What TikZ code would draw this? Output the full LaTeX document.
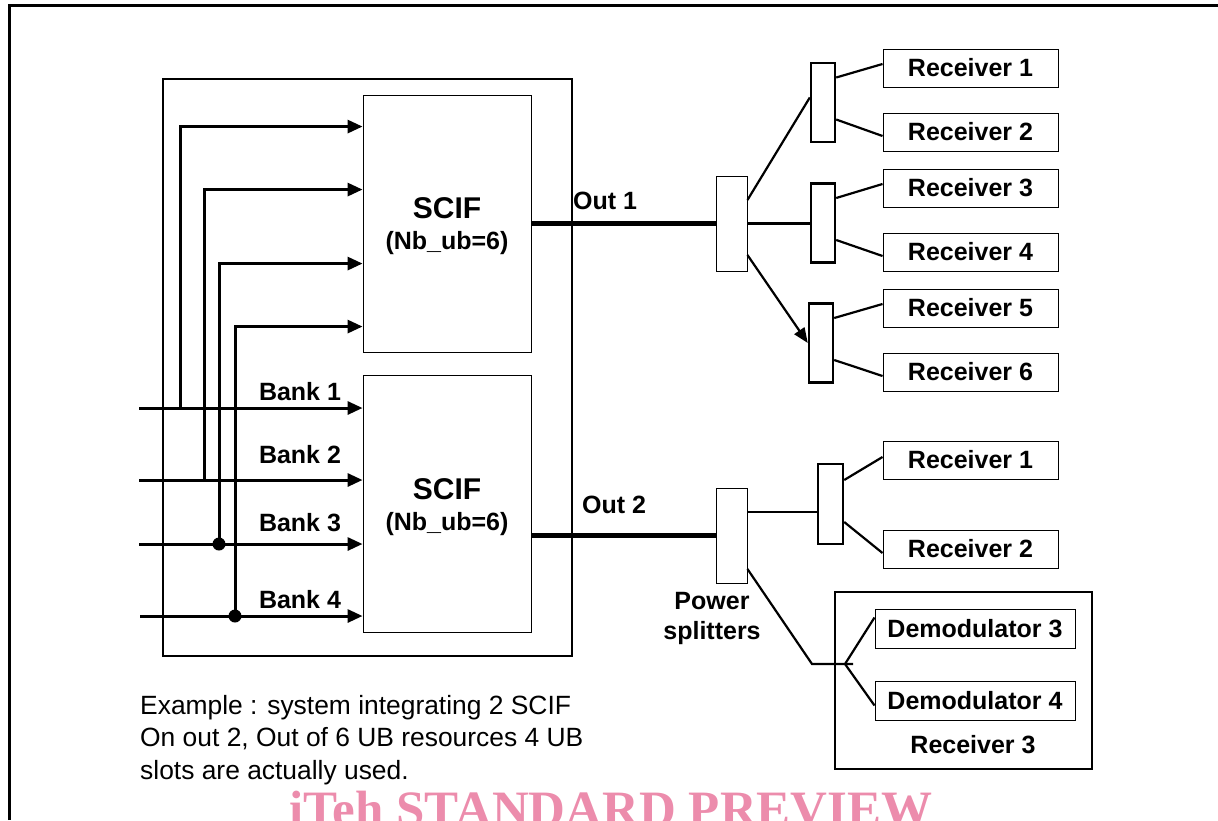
\documentclass[tikz,border=0pt]{standalone}
\usepackage{fontspec}
\setmainfont{Liberation Sans}
\newfontfamily\wmfont{Liberation Serif}
\usetikzlibrary{arrows.meta,positioning}
\definecolor{wmpink}{RGB}{236,140,172}

\begin{document}
\begin{tikzpicture}[
    x=1pt, y=-1pt,
    lbl/.style={font=\fontsize{25}{30}\selectfont\bfseries, inner sep=0pt},
    scif/.style={rectangle, draw, line width=0.9pt, minimum width=168pt, minimum height=257pt, inner sep=0pt},
    rx/.style={rectangle, draw, line width=1pt, minimum width=175pt, minimum height=38pt, lbl},
    demod/.style={rx, minimum width=200pt, minimum height=39pt},
    splitter/.style={rectangle, draw, line width=0.9pt, minimum width=31pt, minimum height=95pt, inner sep=0pt},
    subsplit/.style={rectangle, draw, line width=2.4pt, minimum width=24pt, minimum height=79pt, inner sep=0pt},
    feed/.style={line width=3pt, -{Triangle[length=15pt,width=13pt]}},
    trunk/.style={line width=5pt},
    wire/.style={line width=2.2pt}
]
\useasboundingbox (0,0) rectangle (1218,820);
\clip (0,0) rectangle (1218,820);

% page frame
\draw[line width=2.7pt] (9.5,820) -- (9.5,5.5) -- (1218,5.5);

% SCIF chassis
\node[draw, line width=2.5pt, minimum width=409pt, minimum height=577pt] (chassis) at (367.5,367.5) {};
\node[scif] (scif1) at (447,223.5) {};
\node[scif] (scif2) at (447,504) {};
\node[lbl, font=\fontsize{30}{34}\selectfont\bfseries] (scif1t) at ([yshift=15.5pt]scif1.center) {SCIF};
\node[lbl] (scif1n) at ([yshift=-19.5pt]scif1.center) {(Nb\_ub=6)};
\node[lbl, font=\fontsize{30}{34}\selectfont\bfseries] (scif2t) at ([yshift=15pt]scif2.center) {SCIF};
\node[lbl] (scif2n) at ([yshift=-20pt]scif2.center) {(Nb\_ub=6)};

% banks
\coordinate (in1) at (139,408);
\coordinate (in2) at (139,480);
\coordinate (in3) at (139,544);
\coordinate (in4) at (140,616);
\draw[feed] (in1) -- (in1 -| scif2.west);
\draw[feed] (in2) -- (in2 -| scif2.west);
\draw[feed] (in3) -- (in3 -| scif2.west);
\draw[feed] (in4) -- (in4 -| scif2.west);
\node[lbl] (bank1) at (300,392) {Bank 1};
\node[lbl] (bank2) at (300,455) {Bank 2};
\node[lbl] (bank3) at (300,523) {Bank 3};
\node[lbl] (bank4) at (300,600) {Bank 4};

% taps to the upper SCIF
\coordinate (tap1) at (180,408);
\coordinate (tap2) at (204,480);
\coordinate (tap3) at (219,544);
\coordinate (tap4) at (235,616);
\draw[feed] (tap1) |- ([yshift=-32pt]scif1.north west);
\draw[feed] (tap2) |- ([yshift=-95pt]scif1.north west);
\draw[feed] (tap3) |- ([yshift=-169pt]scif1.north west);
\draw[feed] (tap4) |- ([yshift=-232pt]scif1.north west);
\fill (tap3) circle (6.5pt);
\fill (tap4) circle (6.5pt);

% outputs
\node[splitter] (split1) at (731.5,223.5) {};
\node[splitter] (split2) at (731.5,535.5) {};
\draw[trunk] (scif1.east |- split1) -- (split1.west);
\draw[trunk] (scif2.east |- split2) -- (split2.west);
\node[lbl] (out1) at (605,201) {Out 1};
\node[lbl] (out2) at (614,505) {Out 2};
\node[lbl, align=center] (pwrlbl) at (712,618) {Power\\splitters};

% second stage
\node[subsplit] (subA) at (823,102.5) {};
\node[subsplit] (subB) at (823,223) {};
\node[subsplit] (subC) at (821,343) {};
\node[subsplit, minimum width=25pt, minimum height=80pt] (subE) at (830.5,504) {};
\draw[wire] ([yshift=23.5pt]split1.east) -- ([yshift=5pt]subA.west);
\draw[wire] (split1.east) -- (split1.east -| subB.west);
\draw[wire, -{Triangle[length=15pt,width=12pt]}] ([yshift=-31.5pt]split1.east) -- (subC.west);
\coordinate (e2in) at ([yshift=-8pt]subE.west);
\draw[wire] (e2in -| split2.east) -- (e2in);

% receivers on out 1
\node[rx] (rxA1) at (970.5,68) {Receiver 1};
\node[rx] (rxA2) at (970.5,132) {Receiver 2};
\node[rx] (rxA3) at (970.5,188) {Receiver 3};
\node[rx] (rxA4) at (970.5,252) {Receiver 4};
\node[rx] (rxA5) at (970.5,308) {Receiver 5};
\node[rx] (rxA6) at (970.5,372) {Receiver 6};
\draw[wire] ([yshift=25pt]subA.east) -- ([yshift=4pt]rxA1.west);
\draw[wire] ([yshift=-17pt]subA.east) -- ([yshift=-4pt]rxA2.west);
\draw[wire] ([yshift=25pt]subB.east) -- ([yshift=4pt]rxA3.west);
\draw[wire] ([yshift=-17pt]subB.east) -- ([yshift=-4pt]rxA4.west);
\draw[wire] ([yshift=25pt]subC.east) -- ([yshift=4pt]rxA5.west);
\draw[wire] ([yshift=-17pt]subC.east) -- ([yshift=-4pt]rxA6.west);

% receivers on out 2
\node[rx] (rxB1) at (970.5,460) {Receiver 1};
\node[rx] (rxB2) at (970.5,549) {Receiver 2};
\draw[wire] ([yshift=24pt]subE.east) -- ([yshift=3pt]rxB1.west);
\draw[wire] ([yshift=-18pt]subE.east) -- ([yshift=-4pt]rxB2.west);

\node[draw, line width=2.5pt, minimum width=257pt, minimum height=177pt] (rx3grp) at (963.5,680.5) {};
\node[demod] (dem3) at (975,628.5) {Demodulator 3};
\node[demod] (dem4) at (975,700.5) {Demodulator 4};
\node[lbl] (rx3lbl) at (973,745) {Receiver 3};
\coordinate (knee) at (812,664);
\coordinate (fork) at (845,664);
\coordinate (stub) at (853,664);
\draw[wire] ([yshift=-33.5pt]split2.east) -- (knee) -- (stub);
\draw[wire] (fork) -- ([yshift=11pt]dem3.west);
\draw[wire] (fork) -- ([yshift=-5pt]dem4.west);

% note
\node[anchor=north west, align=left, inner sep=0pt, font=\fontsize{26.4}{32.5}\selectfont] (note) at (140,695)
  {Example : system integrating 2 SCIF\\On out 2, Out of 6 UB resources 4 UB\\slots are actually used.};
\node[anchor=base, text=wmpink, font=\wmfont\fontsize{51}{51}\selectfont\bfseries] (wm) at (611,826) {iTeh STANDARD PREVIEW};
\end{tikzpicture}
\end{document}
